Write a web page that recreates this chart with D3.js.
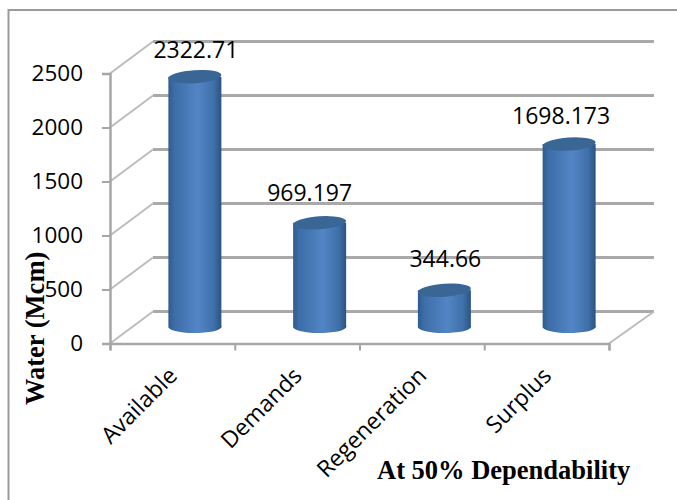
<!DOCTYPE html>
<html>
<head>
<meta charset="utf-8">
<script src="https://cdn.jsdelivr.net/npm/d3@7/dist/d3.min.js"></script>
<style>
html,body{margin:0;padding:0;background:#fff;}
svg{display:block;}
</style>
</head>
<body>
<svg id="chart" width="677" height="500"></svg>
<script>
const categories = ["Available", "Demands", "Regeneration", "Surplus"];
const values = [2322.71, 969.197, 344.66, 1698.173];
const valueLabels = ["2322.71", "969.197", "344.66", "1698.173"];
const yTicks = [0, 500, 1000, 1500, 2000, 2500];

// Oblique projection of the box: the back wall sits up and to the right of the front plane.
const depthX = 43, depthY = -32;
const frontLeft = 110, frontRight = 609, frontBase = 343.5, frontTop = 73.5;
const capRx = 26.5, capRy = 6.5, tilt = -4;

const svg = d3.select("#chart");
const x = d3.scaleBand().domain(categories).range([frontLeft, frontRight]);
const y = d3.scaleLinear().domain([0, 2500]).range([frontBase, frontTop]);

const defs = svg.append("defs");
const grad = defs.append("linearGradient").attr("id", "cyl");
[[0, "#2f5c90"], [0.12, "#3d6ea8"], [0.55, "#5385c6"], [0.85, "#3f70aa"], [1, "#2a527f"]]
  .forEach(([o, c]) => grad.append("stop").attr("offset", o).attr("stop-color", c));

// Outer frame, open towards the right and bottom edges of the page
svg.append("path").attr("d", "M8.5,500V10H677").attr("fill", "none")
  .attr("stroke", "#9a9a9a").attr("stroke-width", 2);

// Back-wall gridlines and their runs along the side wall
const grid = svg.append("g");
grid.selectAll("line.back").data(yTicks).join("line").attr("class", "back")
  .attr("x1", frontLeft + depthX).attr("x2", frontRight + depthX + 2)
  .attr("y1", d => y(d) + depthY).attr("y2", d => y(d) + depthY)
  .attr("stroke", "#a9a9a9").attr("stroke-width", 3);
grid.selectAll("line.side").data(yTicks).join("line").attr("class", "side")
  .attr("x1", frontLeft).attr("x2", frontLeft + depthX)
  .attr("y1", d => y(d)).attr("y2", d => y(d) + depthY)
  .attr("stroke", "#bcbcbc").attr("stroke-width", 2);

// Floor edge on the right
svg.append("line").attr("x1", frontRight).attr("y1", frontBase)
  .attr("x2", frontRight + depthX + 2).attr("y2", frontBase + depthY)
  .attr("stroke", "#bcbcbc").attr("stroke-width", 2);

// Axes
const axisColor = "#a6a6a6";
const yAxis = svg.append("g").attr("transform", `translate(${frontLeft},0)`)
  .call(d3.axisLeft(y).tickValues(yTicks).tickFormat(d3.format("d")).tickSize(8).tickPadding(19));
const xEdges = d3.axisBottom(d3.scaleLinear().domain([0, 4]).range([frontLeft, frontRight]))
  .ticks(4).tickSize(7).tickFormat("");
const xAxis = svg.append("g").attr("transform", `translate(0,${frontBase})`).call(xEdges);
[yAxis, xAxis].forEach(a => {
  a.selectAll(".domain").attr("stroke", axisColor).attr("stroke-width", 2.5);
  a.selectAll(".tick line").attr("stroke", axisColor).attr("stroke-width", 2);
});
yAxis.selectAll("text").attr("font-family", "'Open Sans'").attr("font-size", 22.5)
  .attr("fill", "#000");

// Cylinders stand half way into the depth of the box
const cx = d => x(d) + x.bandwidth() / 2 + depthX / 2 + 1;
const barBase = y(0) + depthY / 2;
const barTop = v => y(v) + depthY / 2;

const bars = svg.append("g").selectAll("g").data(categories).join("g");
bars.append("path")
  .attr("fill", "url(#cyl)")
  .attr("d", (c, i) => {
    const l = cx(c) - capRx, r = cx(c) + capRx, t = barTop(values[i]);
    return `M${l},${t}L${l},${barBase}A${capRx},${capRy} 0 0 0 ${r},${barBase - 2}L${r},${t}Z`;
  });
bars.append("ellipse")
  .attr("cx", c => cx(c))
  .attr("cy", (c, i) => barTop(values[i]))
  .attr("rx", capRx).attr("ry", capRy)
  .attr("fill", "#3a6696")
  .attr("transform", (c, i) => `rotate(${tilt} ${cx(c)} ${barTop(values[i])})`);

// Value labels above each cylinder
const labelShift = [[1, -19], [-10, -22], [1, -23], [-8, -20]];
svg.append("g").selectAll("text").data(valueLabels).join("text")
  .attr("x", (d, i) => cx(categories[i]) + labelShift[i][0])
  .attr("y", (d, i) => barTop(values[i]) + labelShift[i][1])
  .attr("text-anchor", "middle")
  .attr("font-family", "'Open Sans'").attr("font-size", 23).attr("fill", "#000")
  .text(d => d);

// Category labels, slanted and ending under the middle of each band
svg.append("g").selectAll("text").data(categories).join("text")
  .attr("transform", c => `translate(${x(c) + x.bandwidth() / 2 - 8},363) rotate(-45)`)
  .attr("text-anchor", "end")
  .attr("dominant-baseline", "hanging")
  .attr("font-family", "'Open Sans'").attr("font-size", 23).attr("fill", "#000")
  .text(c => c);

// Axis titles
svg.append("text").attr("transform", "translate(44,405) rotate(-90)")
  .attr("font-family", "'Liberation Serif'").attr("font-weight", "bold")
  .attr("font-size", 26.5).attr("fill", "#000").text("Water (Mcm)");
svg.append("text").attr("x", 377).attr("y", 479)
  .attr("font-family", "'Liberation Serif'").attr("font-weight", "bold")
  .attr("font-size", 26.5).attr("fill", "#000").text("At 50% Dependability");
</script>
</body>
</html>
